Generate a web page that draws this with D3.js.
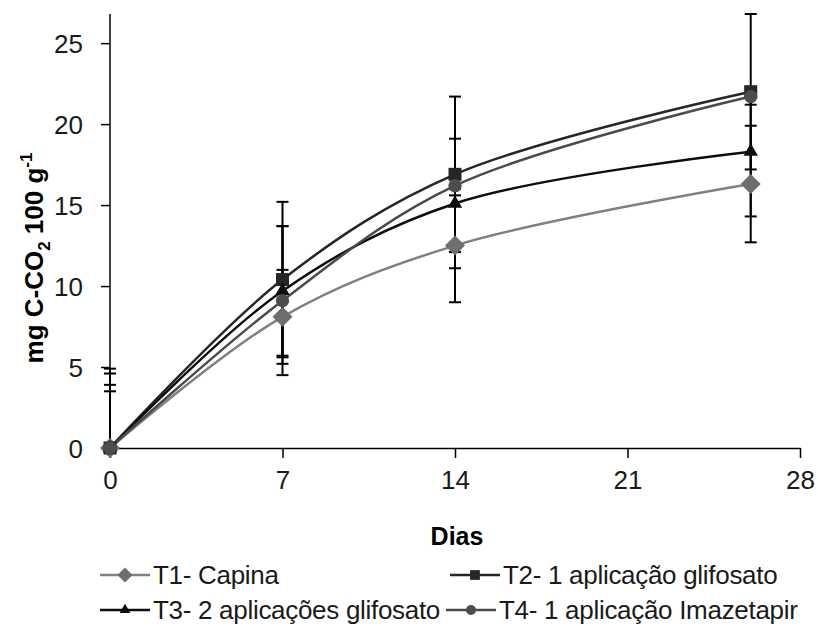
<!DOCTYPE html>
<html>
<head>
<meta charset="utf-8">
<script src="https://cdn.jsdelivr.net/npm/d3@7"></script>
<style>
  body { margin: 0; background: #fff; }
  svg { font-family: "Liberation Sans", Arial, sans-serif; }
</style>
</head>
<body>
<script>
// dias de incubação e CO2 acumulado por tratamento
const days = [0, 7, 14, 26];
const xTicks = [0, 7, 14, 21, 28];
const yTicks = [0, 5, 10, 15, 20, 25];

const seriesNames = ['T1- Capina', 'T2- 1 aplicação glifosato', 'T3- 2 aplicações glifosato', 'T4- 1 aplicação Imazetapir'];
const t1 = [0, 8.1, 12.5, 16.3];
const t2 = [0, 10.4, 16.9, 22.0];
const t3 = [0, 9.7, 15.1, 18.3];
const t4 = [0, 9.1, 16.2, 21.7];
const t1Err = [3.5, 2.9, 3.5, 3.6];
const t2Err = [4.9, 4.8, 4.8, 4.8];
const t3Err = [4.6, 4.0, 4.0, 4.0];
const t4Err = [3.9, 4.6, 0.6, 0.5];

const width = 818, height = 626;
const margin = {left: 110, right: 18, top: 14, bottom: 178};

const styles = [
  {line: '#808080', fill: '#6e6e6e', sym: 'diamond'},
  {line: '#262626', fill: '#262626', sym: 'square'},
  {line: '#0d0d0d', fill: '#0d0d0d', sym: 'triangle'},
  {line: '#4a4a4a', fill: '#4d4d4d', sym: 'circle'}
];
const vals = [t1, t2, t3, t4];
const errs = [t1Err, t2Err, t3Err, t4Err];

const svg = d3.select('body').append('svg').attr('width', width).attr('height', height);

const x = d3.scaleLinear().domain([0, 28]).range([margin.left, width - margin.right]);
const y = d3.scaleLinear().domain([0, 26.8]).range([height - margin.bottom, margin.top]);

const symbolPath = (s) => {
  if (s === 'diamond') return d3.symbol(d3.symbolSquare, 200)();
  if (s === 'square') return d3.symbol(d3.symbolSquare, 169)();
  if (s === 'triangle') return d3.symbol(d3.symbolTriangle, 90)();
  return d3.symbol(d3.symbolCircle, 140)();
};
const symRotate = (s) => s === 'diamond' ? ' rotate(45)' : '';

// eixos
const xAxis = d3.axisBottom(x).tickValues(xTicks).tickSize(10).tickPadding(8).tickSizeOuter(0);
const yAxis = d3.axisLeft(y).tickValues(yTicks).tickSize(9).tickPadding(18).tickSizeOuter(0);

const gx = svg.append('g').attr('transform', `translate(0,${y(0)})`).call(xAxis);
const gy = svg.append('g').attr('transform', `translate(${x(0)},0)`).call(yAxis);
[gx, gy].forEach(g => {
  g.select('.domain').attr('stroke', '#000').attr('stroke-width', 1.5);
  g.selectAll('.tick line').attr('stroke', '#000').attr('stroke-width', 1.5);
  g.selectAll('.tick text').attr('font-size', 26).attr('fill', '#1a1a1a').attr('font-family', '"Liberation Sans", Arial, sans-serif');
});
gx.selectAll('.tick text').attr('dy', '0.9em');
gy.selectAll('.tick text').attr('dy', '0.35em');
// eixo y vai até o topo
gy.select('.domain').attr('d', `M0,${y(0)}V${margin.top}`);

// barras de erro
const errG = svg.append('g');
const capW = 6;
vals.forEach((v, si) => {
  v.forEach((d, i) => {
    const hi = Math.min(d + errs[si][i], 26.8);
    const lo = Math.max(d - errs[si][i], 0);
    const xi = x(days[i]);
    errG.append('line').attr('x1', xi).attr('x2', xi).attr('y1', y(lo)).attr('y2', y(hi))
      .attr('stroke', '#000').attr('stroke-width', 2);
    errG.append('line').attr('x1', xi - capW).attr('x2', xi + capW).attr('y1', y(hi)).attr('y2', y(hi))
      .attr('stroke', '#000').attr('stroke-width', 2);
    if (d - errs[si][i] >= 0) {
      errG.append('line').attr('x1', xi - capW).attr('x2', xi + capW).attr('y1', y(lo)).attr('y2', y(lo))
        .attr('stroke', '#000').attr('stroke-width', 2);
    }
  });
});

// linhas suavizadas
const line = d3.line().x((d, i) => x(days[i])).y(d => y(d)).curve(d3.curveCatmullRom.alpha(0.5));
vals.forEach((v, si) => {
  svg.append('path').attr('d', line(v)).attr('fill', 'none')
    .attr('stroke', styles[si].line).attr('stroke-width', 2.5);
});

// marcadores
vals.forEach((v, si) => {
  svg.append('g').selectAll('path').data(v).join('path')
    .attr('d', symbolPath(styles[si].sym))
    .attr('transform', (d, i) => `translate(${x(days[i])},${y(d)})` + symRotate(styles[si].sym))
    .attr('fill', styles[si].fill);
});

// títulos dos eixos
svg.append('text').attr('x', 457).attr('y', 545).attr('text-anchor', 'middle')
  .attr('font-size', 25).attr('font-weight', 'bold').attr('fill', '#000').text('Dias');

const yt = svg.append('text').attr('transform', 'translate(43,258) rotate(-90)').attr('text-anchor', 'middle')
  .attr('font-size', 26).attr('font-weight', 'bold').attr('fill', '#000');
yt.append('tspan').text('mg C-CO');
yt.append('tspan').attr('font-size', 17).attr('dy', 7).text('2');
yt.append('tspan').attr('dy', -7).text(' 100 g');
yt.append('tspan').attr('font-size', 17).attr('dy', -11).text('-1');

// legenda
const legPos = [[100, 575], [450, 575], [100, 610], [446, 610]];
seriesNames.forEach((name, si) => {
  const [lx, ly] = legPos[si];
  const g = svg.append('g').attr('transform', `translate(${lx},${ly})`);
  g.append('line').attr('x1', 0).attr('x2', 50).attr('stroke', styles[si].line).attr('stroke-width', 2.5);
  g.append('path').attr('d', symbolPath(styles[si].sym))
    .attr('transform', 'translate(25,0) scale(0.75)' + symRotate(styles[si].sym))
    .attr('fill', styles[si].fill);
  g.append('text').attr('x', 53).attr('dy', '0.35em').attr('font-size', 26).attr('fill', '#1a1a1a')
    .attr('letter-spacing', -0.3).text(name);
});
</script>
</body>
</html>
